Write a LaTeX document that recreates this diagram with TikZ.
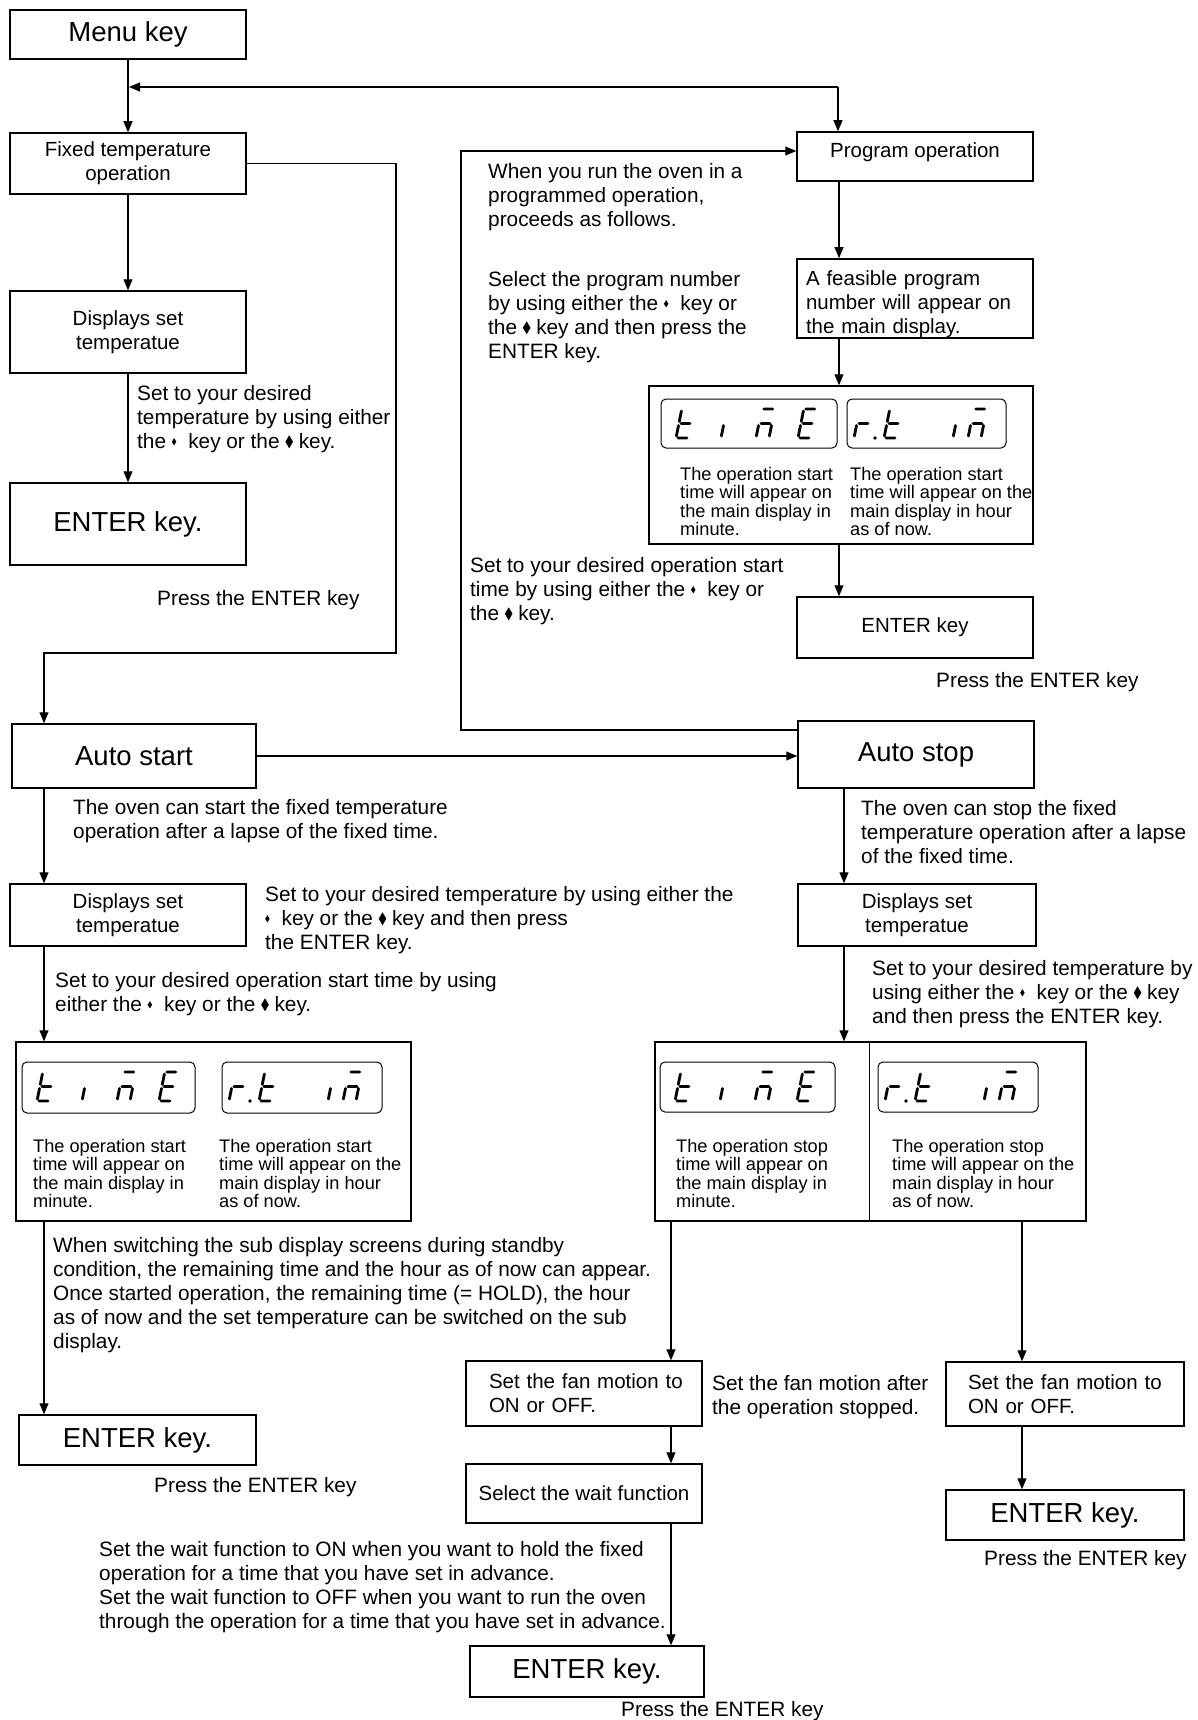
\documentclass[tikz,border=0pt]{standalone}
\usepackage{fontspec}
\setmainfont{Liberation Sans}
\usepackage{graphicx}
\usetikzlibrary{arrows.meta,calc}
\hfuzz=100pt
\newcommand\dsm{\tikz[baseline=0pt,x=1pt,y=1pt]\fill (0,6.5)--(2.2,10.2)--(4.4,6.5)--(2.2,2.8)--cycle;}
\newcommand\dbg{\tikz[baseline=0pt,x=1pt,y=1pt]\fill (0,6.5)--(3.8,13)--(7.6,6.5)--(3.8,0)--cycle;}
\newcommand\SA{(2,29)--(11,29)}
\newcommand\SB{(13,27)--(13,16.5)}
\newcommand\SC{(13,12.5)--(13,2)}
\newcommand\SD{(2,0)--(11,0)}
\newcommand\SE{(0,12.5)--(0,2)}
\newcommand\SF{(0,27)--(0,16.5)}
\newcommand\SG{(2,14.5)--(11,14.5)}
\newcommand\GL[3]{\draw[segline,shift={(#1,#2)},xslant=0.2,yscale=-1] #3;}
\newcommand\TIMEpanel[4]{%
  \draw[lcdpanel] (#1,#2) rectangle (#3,#4);
  \GL{#1+15}{#2+39}{\SF\SE\SG\SD}
  \GL{#1+60}{#2+39}{\SE}
  \GL{#1+95}{#2+39}{\SA\SG\SE\SC}
  \GL{#1+137}{#2+39}{\SA\SF\SG\SE\SD}}
\newcommand\RTIMpanel[4]{%
  \draw[lcdpanel] (#1,#2) rectangle (#3,#4);
  \GL{#1+7}{#2+39}{\SG\SE}
  \fill ({#1+28},{#2+39}) circle (1.9);
  \GL{#1+37}{#2+39}{\SF\SE\SG\SD}
  \GL{#1+106}{#2+39}{\SE}
  \GL{#1+121}{#2+39}{\SA\SG\SE\SC}}
\newcommand\BX[7][]{\node[flowbox,#1,minimum width={#5-#3},minimum height={#6-#4}] (#2) at ({(#3+#5)/2},{(#4+#6)/2}) {#7};}
\begin{document}
\begin{tikzpicture}[x=1pt,y=-1pt,
  flowbox/.style={draw, line width=1.5pt, inner sep=0pt, font=\fontsize{20.5}{24}\selectfont, align=center},
  bigtxt/.style={font=\fontsize{27.5}{30}\selectfont},
  comtxt/.style={font=\fontsize{20.8}{24}\selectfont, align=left, inner sep=0pt, anchor=north west},
  smalltxt/.style={font=\fontsize{18.2}{18.5}\selectfont, align=left, inner sep=0pt, anchor=north west},
  conn/.style={line width=1.1pt},
  arr/.style={conn, -{Triangle[length=11pt,width=9pt]}},
  segline/.style={line width=2.8pt, line cap=round},
  lcdpanel/.style={draw, line width=1pt, rounded corners=5pt}]
\useasboundingbox[fill=white] (0,0) rectangle (1198,1720);

% ---------- boxes ----------
\BX[bigtxt]{menu}{10}{10}{246}{59}{Menu key}
\BX{fixed}{10}{133}{246}{194}{Fixed temperature\\operation}
\BX{disp1}{10}{291}{246}{373}{Displays set\\temperatue}
\BX[bigtxt]{enter1}{10}{483}{246}{565}{ENTER key.}
\BX[bigtxt]{autostart}{12}{724}{256}{788}{Auto start}
\BX{disp2}{10}{884}{246}{946}{Displays set\\temperatue}
\BX{dbox1}{16}{1042}{411}{1221}{}
\BX[bigtxt]{enter2}{19}{1415}{256}{1465}{ENTER key.}

\BX{progop}{797}{132}{1033}{181}{Program operation\\[-12pt]\mbox{}}
\BX[align=left,text width=218]{feas}{797}{259}{1033}{338}{\mbox{}\\[3pt]A feasible program\\number will appear on\\the main display.}
\BX{dbox2}{649}{386}{1033}{544}{}
\BX{enterP}{797}{597}{1033}{658}{ENTER key}
\BX[bigtxt]{autostop}{798}{721}{1034}{788}{Auto stop}
\BX{disp3}{798}{884}{1036}{946}{Displays set\\temperatue}
\BX{dbox3}{655}{1042}{1086}{1221}{}
\BX[align=left,text width=190]{fan1}{466}{1361}{702}{1426}{\mbox{Set the fan motion to}\\ON or OFF.}
\BX{wait}{466}{1464}{702}{1523}{Select the wait function}
\BX[bigtxt]{enter3}{470}{1646}{704}{1697}{ENTER key.}
\BX[align=left,text width=194]{fan2}{946}{1362}{1184}{1426}{\mbox{Set the fan motion to}\\ON or OFF.}
\BX[bigtxt]{enter4}{946}{1490}{1184}{1540}{ENTER key.}

\draw[conn] ($(dbox3.north west)+(215,0)$) -- ($(dbox3.south west)+(215,0)$);

% ---------- seven segment panels ----------
\TIMEpanel{22}{1062}{195}{1113}
\RTIMpanel{222}{1062}{382}{1113}
\TIMEpanel{661}{399}{837}{448}
\RTIMpanel{847}{399}{1006}{448}
\TIMEpanel{660}{1062}{835}{1112}
\RTIMpanel{878}{1062}{1038}{1112}

% ---------- texts ----------
\node[comtxt] (c1) at (137,385) {Set to your desired\\temperature by using either\\the \dsm\hspace{12pt}key or the \dbg\ key.};
\node[comtxt] (p1) at (157,590) {Press the ENTER key};
\node[comtxt] (c6) at (488,163) {When you run the oven in a\\programmed operation,\\proceeds as follows.};
\node[comtxt] (c7) at (488,271) {Select the program number\\by using either the \dsm\hspace{12pt}key or\\the \dbg\ key and then press the\\ENTER key.};
\node[comtxt] (c8) at (470,557) {Set to your desired operation start\\time by using either the \dsm\hspace{12pt}key or\\the \dbg\ key.};
\node[comtxt] (pP) at (936,672) {Press the ENTER key};
\node[comtxt] (c2) at (73,799) {The oven can start the fixed temperature\\operation after a lapse of the fixed time.};
\node[comtxt] (c9) at (861,800) {The oven can stop the fixed\\temperature operation after a lapse\\of the fixed time.};
\node[comtxt] (c3) at (265,886) {Set to your desired temperature by using either the\\\dsm\hspace{12pt}key or the \dbg\ key and then press\\the ENTER key.};
\node[comtxt] (c10) at (872,960) {Set to your desired temperature by\\using either the \dsm\hspace{12pt}key or the \dbg\ key\\and then press the ENTER key.};
\node[comtxt] (c4) at (55,972) {Set to your desired operation start time by using\\either the \dsm\hspace{12pt}key or the \dbg\ key.};

\node[smalltxt] (s1) at (33,1139) {The operation start\\time will appear on\\the main display in\\minute.};
\node[smalltxt] (s2) at (219,1139) {The operation start\\time will appear on the\\main display in hour\\as of now.};
\node[smalltxt] (s3) at (680,467) {The operation start\\time will appear on\\the main display in\\minute.};
\node[smalltxt] (s4) at (850,467) {The operation start\\time will appear on the\\main display in hour\\as of now.};
\node[smalltxt] (s5) at (676,1139) {The operation stop\\time will appear on\\the main display in\\minute.};
\node[smalltxt] (s6) at (892,1139) {The operation stop\\time will appear on the\\main display in hour\\as of now.};

\node[comtxt] (c5) at (53,1237) {When switching the sub display screens during standby\\condition, the remaining time and the hour as of now can appear.\\Once started operation, the remaining time (= HOLD), the hour\\as of now and the set temperature can be switched on the sub\\display.};
\node[comtxt] (p2) at (154,1477) {Press the ENTER key};
\node[comtxt] (c11) at (712,1375) {Set the fan motion after\\the operation stopped.};
\node[comtxt] (c12) at (99,1541) {Set the wait function to ON when you want to hold the fixed\\operation for a time that you have set in advance.\\Set the wait function to OFF when you want to run the oven\\through the operation for a time that you have set in advance.};
\node[comtxt] (p3) at (621,1701) {Press the ENTER key};
\node[comtxt] (p4) at (984,1550) {Press the ENTER key};

% ---------- connectors ----------
\coordinate (j1) at (129,87);
\coordinate (j2) at (838,87);
\coordinate (fA) at (396,653);
\coordinate (fB) at (44,653);
\coordinate (xb) at (44,0);
\coordinate (xc) at (839,0);
\coordinate (xd) at (844,0);
\coordinate (xe) at (671,0);
\coordinate (xf) at (1022,0);
\coordinate (lA) at (461,730);
\coordinate (lB) at (461,151);

\draw[arr] (menu.south) -- (fixed.north);
\draw[arr] (j2) -- (j1);
\draw[arr] (j2) -- (j2 |- progop.north);
\draw[arr] (fixed.south) -- (disp1.north);
\draw[arr] (disp1.south) -- (enter1.north);
\draw[arr] (fixed.east) -| (fA) -- (fB) -- (fB |- autostart.north);
\draw[arr] (autostart.east) -- (autostart.east -| autostop.west);
\draw[arr] (autostart.south -| xb) -- (disp2.north -| xb);
\draw[arr] (disp2.south -| xb) -- (dbox1.north -| xb);
\draw[arr] (dbox1.south -| xb) -- (enter2.north -| xb);

\draw[arr] (progop.south -| xc) -- (feas.north -| xc);
\draw[arr] (feas.south -| xc) -- (dbox2.north -| xc);
\draw[arr] (dbox2.south -| xc) -- (enterP.north -| xc);
\draw[arr] (autostop.west |- lA) -- (lA) -- (lB) -- (lB -| progop.west);

\draw[arr] (autostop.south -| xd) -- (disp3.north -| xd);
\draw[arr] (disp3.south -| xd) -- (dbox3.north -| xd);
\draw[arr] (dbox3.south -| xe) -- (fan1.north -| xe);
\draw[arr] (fan1.south -| xe) -- (wait.north -| xe);
\draw[arr] (wait.south -| xe) -- (enter3.north -| xe);
\draw[arr] (dbox3.south -| xf) -- (fan2.north -| xf);
\draw[arr] (fan2.south -| xf) -- (enter4.north -| xf);
\end{tikzpicture}
\end{document}
